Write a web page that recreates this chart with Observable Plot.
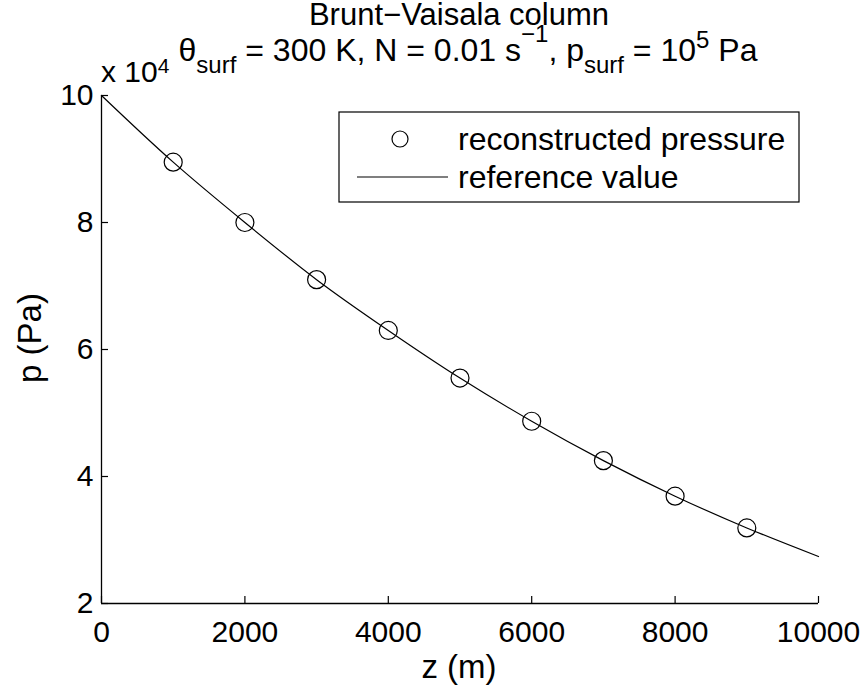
<!DOCTYPE html>
<html>
<head>
<meta charset="utf-8">
<script src="https://cdn.jsdelivr.net/npm/d3@7"></script>
<script src="https://cdn.jsdelivr.net/npm/@observablehq/plot@0.6"></script>
<style>
  html, body { margin: 0; padding: 0; background: white; }
</style>
</head>
<body>
<div id="chart"></div>
<script>
// Data
const zPoints = [1000, 2000, 3000, 4000, 5000, 6000, 7000, 8000, 9000];
const pPoints = [89500, 80000, 71000, 63000, 55500, 48700, 42500, 36900, 31900];
const zRef = [0, 1000, 2000, 3000, 4000, 5000, 6000, 7000, 8000, 9000, 10000];
const pRef = [100000, 89500, 80000, 71000, 63000, 55500, 48700, 42500, 36900, 31900, 27400];
const xTicks = [0, 2000, 4000, 6000, 8000, 10000];
const yTicks = [20000, 40000, 60000, 80000, 100000];
const legendLabels = ["reconstructed pressure", "reference value"];

const points = zPoints.map((z, i) => ({z, p: pPoints[i]}));
const ref = zRef.map((z, i) => ({z, p: pRef[i]}));

const FONT = "'Liberation Sans', Arial, Helvetica, sans-serif";

const svg = Plot.plot({
  width: 867,
  height: 691,
  marginLeft: 101,
  marginRight: 49,
  marginTop: 95,
  marginBottom: 88,
  x: {domain: [0, 10000]},
  y: {domain: [20000, 100000]},
  style: {fontFamily: FONT, fontSize: "30px", color: "black", background: "white", overflow: "visible"},
  marks: [
    Plot.ruleY([20000], {stroke: "black", strokeWidth: 1.3}),
    Plot.ruleX([0], {stroke: "black", strokeWidth: 1.3}),
    Plot.axisX(xTicks, {tickSize: -7, tickPadding: 24, label: null, fontSize: 30, strokeWidth: 1.2, tickFormat: d => String(d)}),
    Plot.axisY(yTicks, {tickSize: -7, tickPadding: 15, label: null, fontSize: 30, strokeWidth: 1.2, tickFormat: d => String(d / 1e4)}),
    Plot.line(ref, {x: "z", y: "p", curve: "monotone-x", stroke: "black", strokeWidth: 1.2}),
    Plot.dot(points, {x: "z", y: "p", r: 9, stroke: "black", strokeWidth: 1.2, fill: "none"})
  ]
});

const s = d3.select(svg);
const fsSub = 24;

// Title line 1
s.append("text")
  .attr("x", 459).attr("y", 25)
  .attr("text-anchor", "middle")
  .style("font-size", "31px")
  .text("Brunt\u2212Vaisala column");

// Title line 2 with sub/superscripts
const t2 = s.append("text")
  .attr("x", 468).attr("y", 61)
  .attr("text-anchor", "middle")
  .style("font-size", "32px");
t2.append("tspan").text("\u03B8");
t2.append("tspan").attr("dy", 12).style("font-size", fsSub + "px").text("surf");
t2.append("tspan").attr("dy", -12).text(" = 300 K, N = 0.01 s");
t2.append("tspan").attr("dy", -19).style("font-size", fsSub + "px").text("\u22121");
t2.append("tspan").attr("dy", 19).text(", p");
t2.append("tspan").attr("dy", 12).style("font-size", fsSub + "px").text("surf");
t2.append("tspan").attr("dy", -12).text(" = 10");
t2.append("tspan").attr("dy", -13).style("font-size", fsSub + "px").text("5");
t2.append("tspan").attr("dy", 13).text(" Pa");

// Exponent label
const ex = s.append("text")
  .attr("x", 101).attr("y", 82)
  .attr("text-anchor", "start")
  .style("font-size", "30px");
ex.append("tspan").text("x 10");
ex.append("tspan").attr("dy", -9).style("font-size", "21px").text("4");

// Axis labels
s.append("text")
  .attr("x", 459).attr("y", 678)
  .attr("text-anchor", "middle")
  .style("font-size", "33px")
  .text("z (m)");
s.append("text")
  .attr("transform", "translate(41,338) rotate(-90)")
  .attr("text-anchor", "middle")
  .style("font-size", "33px")
  .text("p (Pa)");

// Legend
const lg = s.append("g");
lg.append("rect")
  .attr("x", 339).attr("y", 112).attr("width", 460).attr("height", 90)
  .attr("fill", "white").attr("stroke", "black").attr("stroke-width", 1.2);
lg.append("circle")
  .attr("cx", 400).attr("cy", 139).attr("r", 8)
  .attr("fill", "none").attr("stroke", "black").attr("stroke-width", 1.2);
lg.append("line")
  .attr("x1", 357).attr("x2", 448).attr("y1", 177).attr("y2", 177)
  .attr("stroke", "black").attr("stroke-width", 1.2);
lg.append("text")
  .attr("x", 458).attr("y", 139).attr("dy", "0.35em")
  .attr("text-anchor", "start")
  .style("font-size", "32px")
  .text(legendLabels[0]);
lg.append("text")
  .attr("x", 458).attr("y", 177).attr("dy", "0.35em")
  .attr("text-anchor", "start")
  .style("font-size", "32px")
  .text(legendLabels[1]);

document.getElementById("chart").appendChild(svg);
</script>
</body>
</html>
